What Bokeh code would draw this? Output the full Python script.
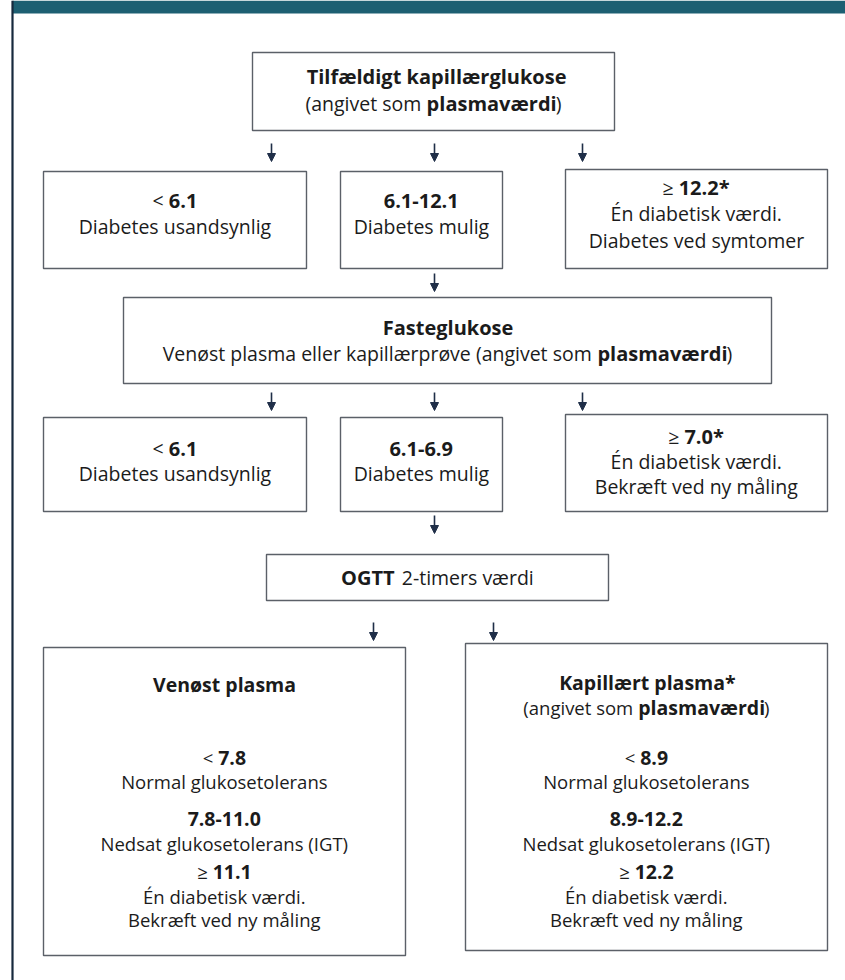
import re
from bokeh.plotting import figure
from bokeh.models import Range1d, Arrow, NormalHead
from bokeh.core.properties import value
from bokeh.embed import file_html
from bokeh.resources import INLINE

# ---------------- content (text of each box; {..} = bold) ----------------
random_box = ["{Tilfældigt kapillærglukose}", "(angivet som {plasmaværdi})"]
random_low = ["< {6.1}", "Diabetes usandsynlig"]
random_mid = ["{6.1-12.1}", "Diabetes mulig"]
random_high = ["≥ {12.2*}", "Én diabetisk værdi.", "Diabetes ved symtomer"]
fasting_box = ["{Fasteglukose}",
               "Venøst plasma eller kapillærprøve (angivet som {plasmaværdi})"]
fasting_low = ["< {6.1}", "Diabetes usandsynlig"]
fasting_mid = ["{6.1-6.9}", "Diabetes mulig"]
fasting_high = ["≥ {7.0*}", "Én diabetisk værdi.", "Bekræft ved ny måling"]
ogtt_box = ["{OGTT} 2-timers værdi"]
venous_box = ["{Venøst plasma}",
              "< {7.8}", "Normal glukosetolerans",
              "{7.8-11.0}", "Nedsat glukosetolerans (IGT)",
              "≥ {11.1}", "Én diabetisk værdi.", "Bekræft ved ny måling"]
capillary_box = ["{Kapillært plasma*}", "(angivet som {plasmaværdi})",
                 "< {8.9}", "Normal glukosetolerans",
                 "{8.9-12.2}", "Nedsat glukosetolerans (IGT)",
                 "≥ {12.2}", "Én diabetisk værdi.", "Bekræft ved ny måling"]

# ---------------- layout (page pixel coordinates, y downward) ----------------
MAIN = ("Open Sans", 19.5, 20)
LOWER = ("Open Sans", 18.5, 19.5)
boxes = [
    (random_box,    (252, 614, 52, 130),  [76, 103], MAIN),
    (random_low,    (43, 306, 171, 268),  [200, 226], MAIN),
    (random_mid,    (340, 502, 171, 268), [200, 226], MAIN),
    (random_high,   (565, 827, 169, 268), [187, 213, 240], MAIN),
    (fasting_box,   (123, 771, 297, 383), [327, 353], MAIN),
    (fasting_low,   (43, 306, 417, 511),  [448, 473], MAIN),
    (fasting_mid,   (340, 502, 417, 511), [448, 473], MAIN),
    (fasting_high,  (565, 827, 414, 511), [436, 461, 486], MAIN),
    (ogtt_box,      (266, 608, 554, 600), [577], MAIN),
    (venous_box,    (43, 405, 647, 955),  [684, 757, 781, 818, 843, 871, 896, 919], LOWER),
    (capillary_box, (465, 827, 643, 950), [682, 707, 757, 781, 818, 843, 871, 896, 919], LOWER),
]
arrows = [(271, 143, 161), (434, 143, 161), (582, 143, 161),
          (434, 273, 291),
          (271, 392, 410), (434, 392, 410), (582, 392, 410),
          (434, 515, 533),
          (373, 622, 640), (493, 622, 640)]

# approximate Open Sans advance widths (em) for centring lines with mixed weights
ADV = {' ': 0.26, '(': 0.30, ')': 0.30, '*': 0.55, '-': 0.32, '.': 0.27, '<': 0.57, '≥': 0.57,
       'A': 0.63, 'B': 0.65, 'D': 0.73, 'E': 0.56, 'F': 0.52, 'G': 0.72, 'I': 0.29, 'K': 0.62,
       'N': 0.76, 'O': 0.78, 'T': 0.55, 'V': 0.60, 'É': 0.56,
       'a': 0.556, 'b': 0.613, 'c': 0.48, 'd': 0.613, 'e': 0.561, 'f': 0.336, 'g': 0.547,
       'h': 0.614, 'i': 0.252, 'j': 0.252, 'k': 0.529, 'l': 0.252, 'm': 0.931, 'n': 0.614,
       'o': 0.602, 'p': 0.613, 'r': 0.408, 's': 0.477, 't': 0.353, 'u': 0.614, 'v': 0.50,
       'y': 0.50, 'æ': 0.873, 'ø': 0.602, 'å': 0.556, 'é': 0.561}
for dch in "0123456789":
    ADV[dch] = 0.572


def width(s, bold, font):
    _, reg, bsize = font
    if bold:
        return sum(ADV.get(c, 0.55) * (1.0 if c.isdigit() else 1.07) for c in s) * bsize
    return sum(ADV.get(c, 0.55) for c in s) * reg


W, H = 845, 980
p = figure(width=W, height=H, x_range=Range1d(0, W), y_range=Range1d(H, 0),
           output_backend="svg", toolbar_location=None, min_border=0,
           background_fill_color="white", border_fill_color="white")
p.axis.visible = False
p.grid.visible = False
p.outline_line_color = None

# banner and left frame line
p.quad(left=[12], right=[845], top=[0], bottom=[13], fill_color="#1d5f72", line_color=None)
p.segment(x0=[12], y0=[0], x1=[12], y1=[980], line_color="#16293d", line_width=2.2)

# boxes
p.quad(left=[b[1][0] for b in boxes], right=[b[1][1] for b in boxes],
       top=[b[1][2] for b in boxes], bottom=[b[1][3] for b in boxes],
       fill_color="white", line_color="#5b6068", line_width=1.4)

# arrows
for ax, ya, yb in arrows:
    p.add_layout(Arrow(x_start=ax, y_start=ya, x_end=ax, y_end=yb,
                       line_color="#1f2e48", line_width=1.6,
                       end=NormalHead(size=8, fill_color="#1f2e48", line_color="#1f2e48")))

# texts
runs = {}
for lines, (bx0, bx1, by0, by1), ys, font in boxes:
    cx = (bx0 + bx1) / 2
    for line, y in zip(lines, ys):
        segs = []
        for part in re.split(r"(\{[^}]*\})", line):
            if not part:
                continue
            if part.startswith("{"):
                segs.append((part[1:-1], True))
            else:
                segs.append((part, False))
        total = sum(width(s, b, font) for s, b in segs)
        x = cx - total / 2
        for s, b in segs:
            lead = len(s) - len(s.lstrip(" "))
            d = runs.setdefault((font, b), {"x": [], "y": [], "t": []})
            d["x"].append(x + width(" " * lead, b, font))
            d["y"].append(y)
            d["t"].append(s.strip(" "))
            x += width(s, b, font)

for (font, b), d in runs.items():
    fam, reg, bsize = font
    p.text(x=d["x"], y=d["y"], text=d["t"], text_font=value(fam),
           text_font_size=f"{bsize if b else reg}px", text_font_style="bold" if b else "normal",
           text_align="left", text_baseline="middle", text_color="#1b1b1b")

open("out.html", "w").write(file_html(p, INLINE))
